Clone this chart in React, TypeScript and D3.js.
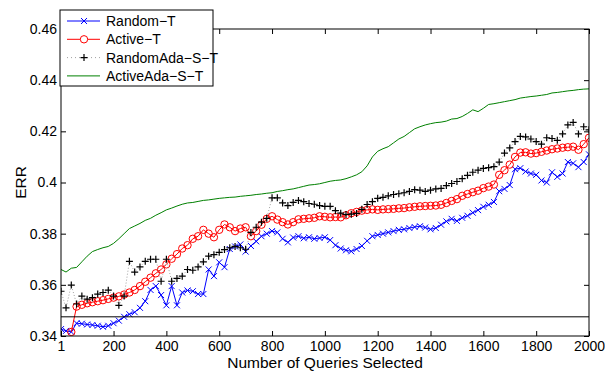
import { useEffect, useRef } from 'react';
import * as d3 from 'd3';

// queries: 1, 20, 40, ... 2000
const queries = d3.range(0, 101).map(i => (i === 0 ? 1 : i * 20));

const randomT = [
  0.3427, 0.3420, 0.3416, 0.3450, 0.3448, 0.3445, 0.3443, 0.3440, 0.3436, 0.3440,
  0.3450, 0.3460, 0.3475, 0.3485, 0.3493, 0.3510, 0.3536, 0.3580, 0.3595, 0.3560,
  0.3520, 0.3595, 0.3520, 0.3570, 0.3578, 0.3575, 0.3564, 0.3564, 0.3660, 0.3634,
  0.3688, 0.3669, 0.3740, 0.3750, 0.3758, 0.3730, 0.3752, 0.3770, 0.3790, 0.3800,
  0.3810, 0.3805, 0.3780, 0.3766, 0.3785, 0.3790, 0.3782, 0.3786, 0.3780, 0.3783,
  0.3786, 0.3775, 0.3755, 0.3742, 0.3735, 0.3731, 0.3740, 0.3752, 0.3772, 0.3790,
  0.3795, 0.3800, 0.3805, 0.3810, 0.3815, 0.3817, 0.3822, 0.3826, 0.3829, 0.3824,
  0.3817, 0.3822, 0.3835, 0.3848, 0.3858, 0.3850, 0.3862, 0.3870, 0.3882, 0.3892,
  0.3905, 0.3913, 0.3924, 0.3966, 0.3975, 0.3990, 0.4052, 0.4056, 0.4043, 0.4035,
  0.4030, 0.4008, 0.4000, 0.4040, 0.4022, 0.4035, 0.4080, 0.4075, 0.4060, 0.4080,
  0.4110,
];

// Active-T has no value before query 40
const activeT = [
  null, null, 0.3416, 0.3515, 0.3522, 0.3528, 0.3532, 0.3536, 0.3540, 0.3545,
  0.3550, 0.3555, 0.3562, 0.3570, 0.3580, 0.3595, 0.3612, 0.3628, 0.3645, 0.3660,
  0.3680, 0.3702, 0.3720, 0.3742, 0.3755, 0.3780, 0.3790, 0.3815, 0.3800, 0.3786,
  0.3815, 0.3836, 0.3825, 0.3810, 0.3820, 0.3825, 0.3790, 0.3810, 0.3835, 0.3858,
  0.3868, 0.3855, 0.3845, 0.3836, 0.3845, 0.3856, 0.3858, 0.3860, 0.3862, 0.3868,
  0.3866, 0.3864, 0.3865, 0.3864, 0.3872, 0.3880, 0.3885, 0.3890, 0.3893, 0.3895,
  0.3893, 0.3895, 0.3896, 0.3897, 0.3899, 0.3900, 0.3903, 0.3905, 0.3907, 0.3908,
  0.3909, 0.3910, 0.3913, 0.3920, 0.3928, 0.3935, 0.3948, 0.3955, 0.3962, 0.3968,
  0.3978, 0.3984, 0.3992, 0.4030, 0.4048, 0.4070, 0.4100, 0.4117, 0.4118, 0.4113,
  0.4115, 0.4120, 0.4125, 0.4130, 0.4133, 0.4136, 0.4138, 0.4140, 0.4128, 0.4150,
  0.4175,
];

const randomAdaST = [
  0.3575, 0.3510, 0.3599, 0.3525, 0.3556, 0.3544, 0.3550, 0.3564, 0.3570, 0.3579,
  0.3556, 0.3520, 0.3556, 0.3692, 0.3650, 0.3670, 0.3692, 0.3700, 0.3700, 0.3614,
  0.3700, 0.3614, 0.3625, 0.3634, 0.3660, 0.3657, 0.3670, 0.3690, 0.3712, 0.3718,
  0.3727, 0.3738, 0.3745, 0.3750, 0.3745, 0.3739, 0.3805, 0.3825, 0.3845, 0.3860,
  0.3940, 0.3940, 0.3920, 0.3910, 0.3922, 0.3930, 0.3925, 0.3918, 0.3915, 0.3910,
  0.3907, 0.3907, 0.3890, 0.3880, 0.3875, 0.3876, 0.3879, 0.3895, 0.3914, 0.3925,
  0.3938, 0.3942, 0.3948, 0.3953, 0.3956, 0.3960, 0.3965, 0.3972, 0.3970, 0.3965,
  0.3970, 0.3975, 0.3977, 0.3988, 0.3996, 0.4004, 0.4015, 0.4028, 0.4040, 0.4048,
  0.4055, 0.4058, 0.4062, 0.4080, 0.4115, 0.4135, 0.4160, 0.4180, 0.4178, 0.4170,
  0.4160, 0.4150, 0.4175, 0.4172, 0.4165, 0.4190, 0.4225, 0.4235, 0.4190, 0.4218,
  0.4206,
];

const activeAdaST = [
  0.3660, 0.3650, 0.3665, 0.3668, 0.3690, 0.3712, 0.3730, 0.3738, 0.3745, 0.3750,
  0.3762, 0.3780, 0.3800, 0.3820, 0.3830, 0.3840, 0.3852, 0.3860, 0.3872, 0.3882,
  0.3893, 0.3900, 0.3908, 0.3915, 0.3920, 0.3922, 0.3926, 0.3930, 0.3932, 0.3935,
  0.3938, 0.3940, 0.3942, 0.3943, 0.3946, 0.3948, 0.3950, 0.3953, 0.3955, 0.3958,
  0.3960, 0.3965, 0.3968, 0.3972, 0.3975, 0.3980, 0.3985, 0.3990, 0.3992, 0.3995,
  0.4000, 0.4005, 0.4008, 0.4010, 0.4015, 0.4022, 0.4030, 0.4042, 0.4065, 0.4100,
  0.4122, 0.4132, 0.4140, 0.4155, 0.4170, 0.4180, 0.4195, 0.4210, 0.4218, 0.4225,
  0.4230, 0.4234, 0.4236, 0.4240, 0.4248, 0.4250, 0.4258, 0.4270, 0.4284, 0.4277,
  0.4290, 0.4305, 0.4308, 0.4312, 0.4316, 0.4320, 0.4324, 0.4330, 0.4333, 0.4336,
  0.4338, 0.4341, 0.4344, 0.4350, 0.4352, 0.4355, 0.4358, 0.4360, 0.4363, 0.4365,
  0.4366,
];

const baselineErr = 0.3475;

const xTicks = [1, 200, 400, 600, 800, 1000, 1200, 1400, 1600, 1800, 2000];
const yTicks = [0.34, 0.36, 0.38, 0.4, 0.42, 0.44, 0.46];

const seriesNames = ['Random−T', 'Active−T', 'RandomAda−S−T', 'ActiveAda−S−T'];

const App = () => {
  const svgRef = useRef(null);

  useEffect(() => {
    const svg = d3.select(svgRef.current);
    svg.selectAll('*').remove();

    const W = 605, H = 372;
    const margin = { top: 29, right: 16, bottom: 36, left: 61 };
    const width = W - margin.left - margin.right;
    const height = H - margin.top - margin.bottom;
    const font = 'Liberation Sans, Arial, Helvetica, sans-serif';

    svg.attr('width', W).attr('height', H);

    const g = svg.append('g')
      .attr('transform', `translate(${margin.left},${margin.top})`);

    const x = d3.scaleLinear().domain([1, 2000]).range([0, width]);
    const y = d3.scaleLinear().domain([0.34, 0.46]).range([height, 0]);

    svg.append('defs').append('clipPath').attr('id', 'plotclip')
      .append('rect').attr('x', 0).attr('y', 0).attr('width', width).attr('height', height);

    // ticks pointing inward on all four sides, MATLAB style
    const tl = 5;
    const axisStyle = sel => {
      sel.select('.domain').remove();
      sel.selectAll('line').attr('stroke', '#000').attr('stroke-width', 1);
      sel.selectAll('text').attr('fill', '#000').attr('font-family', font).attr('font-size', 14);
    };
    g.append('g').attr('transform', `translate(0,${height})`)
      .call(d3.axisBottom(x).tickValues(xTicks).tickSize(-tl).tickPadding(5).tickFormat(d3.format('d')))
      .call(axisStyle);
    g.append('g')
      .call(d3.axisTop(x).tickValues(xTicks).tickSize(-tl).tickFormat(() => ''))
      .call(axisStyle);
    g.append('g')
      .call(d3.axisLeft(y).tickValues(yTicks).tickSize(-tl).tickPadding(4).tickFormat(d => String(+d.toFixed(2))))
      .call(axisStyle);
    g.append('g').attr('transform', `translate(${width},0)`)
      .call(d3.axisRight(y).tickValues(yTicks).tickSize(-tl).tickFormat(() => ''))
      .call(axisStyle);

    const plot = g.append('g').attr('clip-path', 'url(#plotclip)');

    const toPts = vals => vals
      .map((v, i) => ({ q: queries[i], v }))
      .filter(d => d.v !== null);

    const line = d3.line().x(d => x(d.q)).y(d => y(d.v));

    // Random-T
    const blue = '#0000ff';
    const bPts = toPts(randomT);
    plot.append('path').datum(bPts).attr('fill', 'none').attr('stroke', blue)
      .attr('stroke-width', 1).attr('d', line);
    const xMark = (sel, pts, color, s) => {
      sel.selectAll(null).data(pts).enter().append('path')
        .attr('d', d => {
          const cx = x(d.q), cy = y(d.v);
          return `M${cx - s},${cy - s}L${cx + s},${cy + s}M${cx - s},${cy + s}L${cx + s},${cy - s}`;
        })
        .attr('stroke', color).attr('stroke-width', 1).attr('fill', 'none');
    };
    xMark(plot, bPts, blue, 3);

    // Active-T
    const red = '#ff0000';
    const rPts = toPts(activeT);
    plot.append('path').datum(rPts).attr('fill', 'none').attr('stroke', red)
      .attr('stroke-width', 1).attr('d', line);
    plot.selectAll(null).data(rPts).enter().append('circle')
      .attr('cx', d => x(d.q)).attr('cy', d => y(d.v)).attr('r', 3.7)
      .attr('fill', 'none').attr('stroke', red).attr('stroke-width', 1);

    // RandomAda-S-T
    const kPts = toPts(randomAdaST);
    plot.append('path').datum(kPts).attr('fill', 'none').attr('stroke', '#888')
      .attr('stroke-width', 0.8).attr('stroke-dasharray', '1,2').attr('d', line);
    const plusMark = (sel, pts, color, s) => {
      sel.selectAll(null).data(pts).enter().append('path')
        .attr('d', d => {
          const cx = x(d.q), cy = y(d.v);
          return `M${cx - s},${cy}L${cx + s},${cy}M${cx},${cy - s}L${cx},${cy + s}`;
        })
        .attr('stroke', color).attr('stroke-width', 1.2).attr('fill', 'none');
    };
    plusMark(plot, kPts, '#000', 3.5);

    // ActiveAda-S-T
    const green = '#008000';
    plot.append('path').datum(toPts(activeAdaST)).attr('fill', 'none').attr('stroke', green)
      .attr('stroke-width', 1).attr('d', line);

    // baseline
    plot.append('line')
      .attr('x1', 0).attr('x2', width)
      .attr('y1', y(baselineErr)).attr('y2', y(baselineErr))
      .attr('stroke', '#000').attr('stroke-width', 1);

    // frame
    g.append('rect').attr('width', width).attr('height', height)
      .attr('fill', 'none').attr('stroke', '#000').attr('stroke-width', 1);

    // axis labels
    svg.append('text')
      .attr('x', margin.left + width / 2).attr('y', H - 4)
      .attr('text-anchor', 'middle').attr('font-family', font).attr('font-size', 15.5)
      .text('Number of Queries Selected');
    svg.append('text')
      .attr('transform', `translate(26,${margin.top + height / 2}) rotate(-90)`)
      .attr('text-anchor', 'middle').attr('font-family', font).attr('font-size', 15.5)
      .text('ERR');

    // legend
    const lg = svg.append('g').attr('transform', 'translate(60,10)');
    lg.append('rect').attr('width', 153).attr('height', 76)
      .attr('fill', '#fff').attr('stroke', '#000').attr('stroke-width', 1);
    seriesNames.forEach((name, i) => {
      const cy = 11 + i * 18.3;
      const row = lg.append('g');
      if (i === 2) {
        row.append('line').attr('x1', 7).attr('x2', 40).attr('y1', cy).attr('y2', cy)
          .attr('stroke', '#888').attr('stroke-width', 0.8).attr('stroke-dasharray', '1,3');
      } else {
        row.append('line').attr('x1', 7).attr('x2', 40).attr('y1', cy).attr('y2', cy)
          .attr('stroke', [blue, red, '#000', green][i]).attr('stroke-width', 1);
      }
      if (i === 0) {
        row.append('path').attr('d', `M21,${cy - 3}L27,${cy + 3}M21,${cy + 3}L27,${cy - 3}`)
          .attr('stroke', blue).attr('stroke-width', 1);
      } else if (i === 1) {
        row.append('circle').attr('cx', 24).attr('cy', cy).attr('r', 3.7)
          .attr('fill', '#fff').attr('stroke', red).attr('stroke-width', 1);
      } else if (i === 2) {
        row.append('path').attr('d', `M20.5,${cy}L27.5,${cy}M24,${cy - 3.5}L24,${cy + 3.5}`)
          .attr('stroke', '#000').attr('stroke-width', 1.2);
      }
      row.append('text').attr('x', 46).attr('y', cy).attr('dy', '0.36em')
        .attr('font-family', font).attr('font-size', 14).attr('fill', '#000')
        .text(name);
    });
  }, []);

  return (
    <div style={{ position: 'absolute', left: 0, top: 0 }}>
      <svg ref={svgRef}></svg>
    </div>
  );
};

export default App;
